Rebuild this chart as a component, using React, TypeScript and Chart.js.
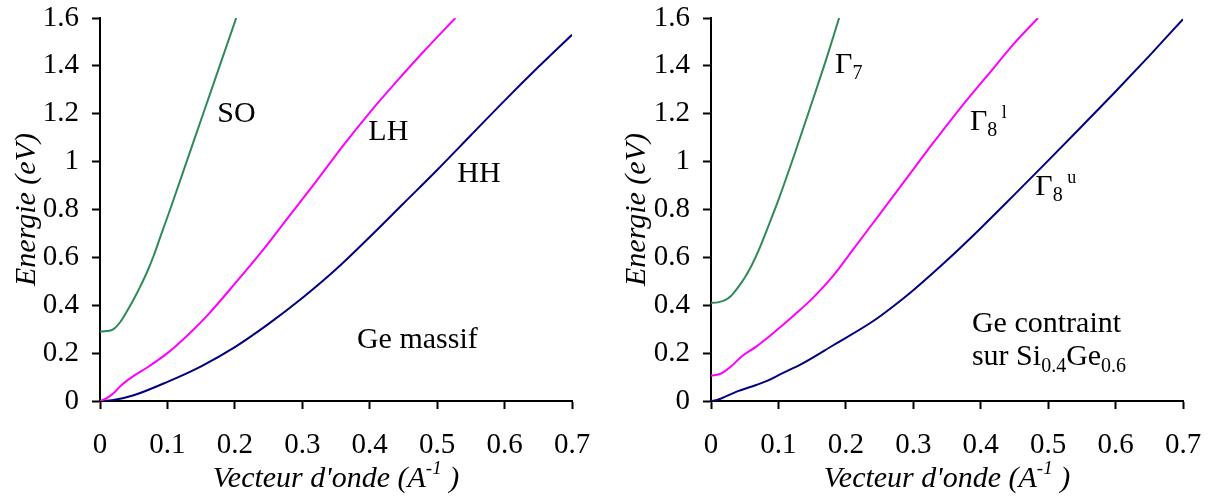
import React, { useEffect, useRef } from "react";
import { Chart, registerables } from "chart.js";
Chart.register(...registerables);

// ---------- Data (wave vector k in 1/Å, energy in eV) ----------
// Left panel: Ge massif
const kSO = [0, 0.01, 0.02, 0.03, 0.04, 0.05, 0.06, 0.07, 0.08, 0.09, 0.104, 0.1285, 0.153, 0.1775, 0.202];
const eSO = [0.29, 0.292, 0.3, 0.33, 0.375, 0.425, 0.48, 0.54, 0.61, 0.69, 0.8, 1.0, 1.2, 1.4, 1.6];
const kLH = [0, 0.01, 0.02, 0.03, 0.04, 0.05, 0.07, 0.1, 0.13, 0.16, 0.2, 0.24, 0.28, 0.32, 0.36, 0.4, 0.44, 0.48, 0.527];
const eLH = [0, 0.012, 0.032, 0.062, 0.085, 0.105, 0.14, 0.2, 0.275, 0.36, 0.49, 0.625, 0.77, 0.915, 1.065, 1.205, 1.335, 1.46, 1.6];
const kHH = [0, 0.02, 0.05, 0.1, 0.15, 0.2, 0.25, 0.3, 0.35, 0.4, 0.45, 0.5, 0.55, 0.6, 0.65, 0.7];
const eHH = [0, 0.004, 0.024, 0.08, 0.145, 0.225, 0.322, 0.43, 0.55, 0.685, 0.825, 0.965, 1.11, 1.255, 1.395, 1.53];

// Right panel: Ge contraint sur Si0.4Ge0.6
const kG7 = [0, 0.01, 0.02, 0.03, 0.04, 0.05, 0.06, 0.07, 0.085, 0.1, 0.125, 0.15, 0.17, 0.19];
const eG7 = [0.41, 0.412, 0.42, 0.44, 0.475, 0.515, 0.565, 0.625, 0.73, 0.84, 1.04, 1.25, 1.42, 1.6];
const kG8l = [0, 0.015, 0.03, 0.045, 0.067, 0.095, 0.124, 0.153, 0.182, 0.21, 0.25, 0.29, 0.33, 0.37, 0.41, 0.45, 0.485];
const eG8l = [0.105, 0.115, 0.145, 0.185, 0.227, 0.29, 0.36, 0.436, 0.526, 0.63, 0.78, 0.93, 1.08, 1.225, 1.36, 1.495, 1.6];
const kG8u = [0, 0.01, 0.038, 0.067, 0.084, 0.101, 0.136, 0.182, 0.239, 0.27, 0.3, 0.35, 0.4, 0.45, 0.5, 0.55, 0.6, 0.65, 0.7];
const eG8u = [0, 0.005, 0.039, 0.067, 0.085, 0.109, 0.157, 0.234, 0.331, 0.395, 0.463, 0.588, 0.722, 0.862, 1.004, 1.148, 1.293, 1.442, 1.595];

const xTickValues = [0, 0.1, 0.2, 0.3, 0.4, 0.5, 0.6, 0.7];
const yTickValues = [0, 0.2, 0.4, 0.6, 0.8, 1.0, 1.2, 1.4, 1.6];

const yTitle = "Energie (eV)";
const xTitleMain = "Vecteur d'onde (A";
const xTitleSup = "-1";
const xTitleEnd = " )";

const FONT = '"Liberation Serif", "Times New Roman", serif';
const GREEN = "#2E8B57";
const MAGENTA = "#FF00FF";
const NAVY = "#000080";

type Seg = { t: string; size: number; italic?: boolean; dy?: number };
type Label = { k: number; e: number; segs: Seg[] };

const leftLabels: Label[] = [
  { k: 0.174, e: 1.165, segs: [{ t: "SO", size: 30 }] },
  { k: 0.398, e: 1.09, segs: [{ t: "LH", size: 30 }] },
  { k: 0.53, e: 0.915, segs: [{ t: "HH", size: 30 }] },
  { k: 0.381, e: 0.221, segs: [{ t: "Ge massif", size: 30 }] },
];
const rightLabels: Label[] = [
  { k: 0.184, e: 1.37, segs: [{ t: "Γ", size: 30 }, { t: "7", size: 20, dy: 6 }] },
  { k: 0.384, e: 1.132, segs: [{ t: "Γ", size: 30 }, { t: "8", size: 20, dy: 6 }, { t: " l", size: 18, dy: -12 }] },
  { k: 0.481, e: 0.86, segs: [{ t: "Γ", size: 30 }, { t: "8", size: 20, dy: 6 }, { t: " u", size: 18, dy: -12 }] },
  { k: 0.387, e: 0.288, segs: [{ t: "Ge contraint", size: 30 }] },
  {
    k: 0.387,
    e: 0.15,
    segs: [
      { t: "sur Si", size: 30 },
      { t: "0.4", size: 20, dy: 7 },
      { t: "Ge", size: 30 },
      { t: "0.6", size: 20, dy: 7 },
    ],
  },
];

function toPoints(ks: number[], es: number[]) {
  return ks.map((k, i) => ({ x: k, y: es[i] }));
}

function drawRich(ctx: CanvasRenderingContext2D, x: number, y: number, segs: Seg[]) {
  let cx = x;
  for (const s of segs) {
    ctx.font = `${s.italic ? "italic " : ""}${s.size}px ${FONT}`;
    ctx.fillText(s.t, cx, y + (s.dy || 0));
    cx += ctx.measureText(s.t).width;
  }
}

function richWidth(ctx: CanvasRenderingContext2D, segs: Seg[]) {
  let w = 0;
  for (const s of segs) {
    ctx.font = `${s.italic ? "italic " : ""}${s.size}px ${FONT}`;
    w += ctx.measureText(s.t).width;
  }
  return w;
}

function zeroPad(scale: any) {
  scale.paddingTop = 0;
  scale.paddingBottom = 0;
  scale.paddingLeft = 0;
  scale.paddingRight = 0;
}

function makeConfig(
  series: { ks: number[]; es: number[]; color: string }[],
  labels: Label[],
  yAxisWidth: number,
  rightPad: number,
  yTitleX: number
): any {
  const annot = {
    id: "annot",
    afterDraw(chart: any) {
      const ctx: CanvasRenderingContext2D = chart.ctx;
      const xs = chart.scales.x;
      const ys = chart.scales.y;
      const area = chart.chartArea;
      ctx.save();
      ctx.fillStyle = "#000";
      ctx.textBaseline = "alphabetic";
      ctx.textAlign = "left";
      for (const l of labels) {
        drawRich(ctx, xs.getPixelForValue(l.k), ys.getPixelForValue(l.e), l.segs);
      }
      // x title with superscript
      const xsegs: Seg[] = [
        { t: xTitleMain, size: 30, italic: true },
        { t: xTitleSup, size: 19, italic: true, dy: -13 },
        { t: xTitleEnd, size: 30, italic: true },
      ];
      const w = richWidth(ctx, xsegs);
      drawRich(ctx, (area.left + area.right) / 2 - w / 2, 487, xsegs);
      // y title rotated
      ctx.translate(yTitleX, (area.top + area.bottom) / 2);
      ctx.rotate(-Math.PI / 2);
      ctx.textAlign = "center";
      ctx.textBaseline = "middle";
      ctx.font = `italic 30px ${FONT}`;
      ctx.fillText(yTitle, 0, 0);
      ctx.restore();
    },
  };

  const fmt = (v: any) => String(Math.round(Number(v) * 10) / 10);

  return {
    type: "line",
    data: {
      datasets: series.map((s) => ({
        data: toPoints(s.ks, s.es),
        borderColor: s.color,
        borderWidth: 2,
        pointRadius: 0,
        fill: false,
        cubicInterpolationMode: "monotone",
      })),
    },
    options: {
      animation: false,
      responsive: false,
      events: [],
      layout: { padding: { top: 18, right: rightPad, left: 0, bottom: 0 } },
      plugins: { legend: { display: false }, tooltip: { enabled: false }, title: { display: false } },
      scales: {
        x: {
          type: "linear",
          min: 0,
          max: 0.7,
          afterBuildTicks: (scale: any) => {
            scale.ticks = xTickValues.map((v) => ({ value: v }));
          },
          afterFit: (scale: any) => {
            scale.height = 96;
            zeroPad(scale);
          },
          ticks: {
            color: "#000",
            font: { family: FONT, size: 29 },
            padding: 19,
            maxRotation: 0,
            autoSkip: false,
            callback: fmt,
          },
          grid: { drawOnChartArea: false, drawTicks: true, tickLength: 8, tickColor: "#000", tickWidth: 2 },
          border: { display: true, color: "#000", width: 2 },
        },
        y: {
          type: "linear",
          min: 0,
          max: 1.6,
          afterBuildTicks: (scale: any) => {
            scale.ticks = yTickValues.map((v) => ({ value: v }));
          },
          afterFit: (scale: any) => {
            scale.width = yAxisWidth;
            zeroPad(scale);
          },
          ticks: {
            color: "#000",
            font: { family: FONT, size: 29 },
            padding: 13,
            autoSkip: false,
            callback: fmt,
          },
          grid: { drawOnChartArea: false, drawTicks: true, tickLength: 8, tickColor: "#000", tickWidth: 2 },
          border: { display: true, color: "#000", width: 2 },
        },
      },
    },
    plugins: [annot],
  };
}

function Panel(props: { config: any; left: number }) {
  const ref = useRef<HTMLCanvasElement | null>(null);
  useEffect(() => {
    if (!ref.current) return;
    const chart = new Chart(ref.current, props.config);
    return () => chart.destroy();
  }, []);
  return (
    <canvas
      ref={ref}
      width={605}
      height={497}
      style={{ position: "absolute", left: props.left, top: 0, width: 605, height: 497 }}
    />
  );
}

export default function App() {
  const leftConfig = makeConfig(
    [
      { ks: kSO, es: eSO, color: GREEN },
      { ks: kLH, es: eLH, color: MAGENTA },
      { ks: kHH, es: eHH, color: NAVY },
    ],
    leftLabels,
    100,
    33,
    27
  );
  const rightConfig = makeConfig(
    [
      { ks: kG7, es: eG7, color: GREEN },
      { ks: kG8l, es: eG8l, color: MAGENTA },
      { ks: kG8u, es: eG8u, color: NAVY },
    ],
    rightLabels,
    106,
    27,
    32
  );
  return (
    <div style={{ position: "absolute", left: 0, top: 0, width: 1210, height: 497, background: "#fff" }}>
      <Panel config={leftConfig} left={0} />
      <Panel config={rightConfig} left={605} />
    </div>
  );
}
